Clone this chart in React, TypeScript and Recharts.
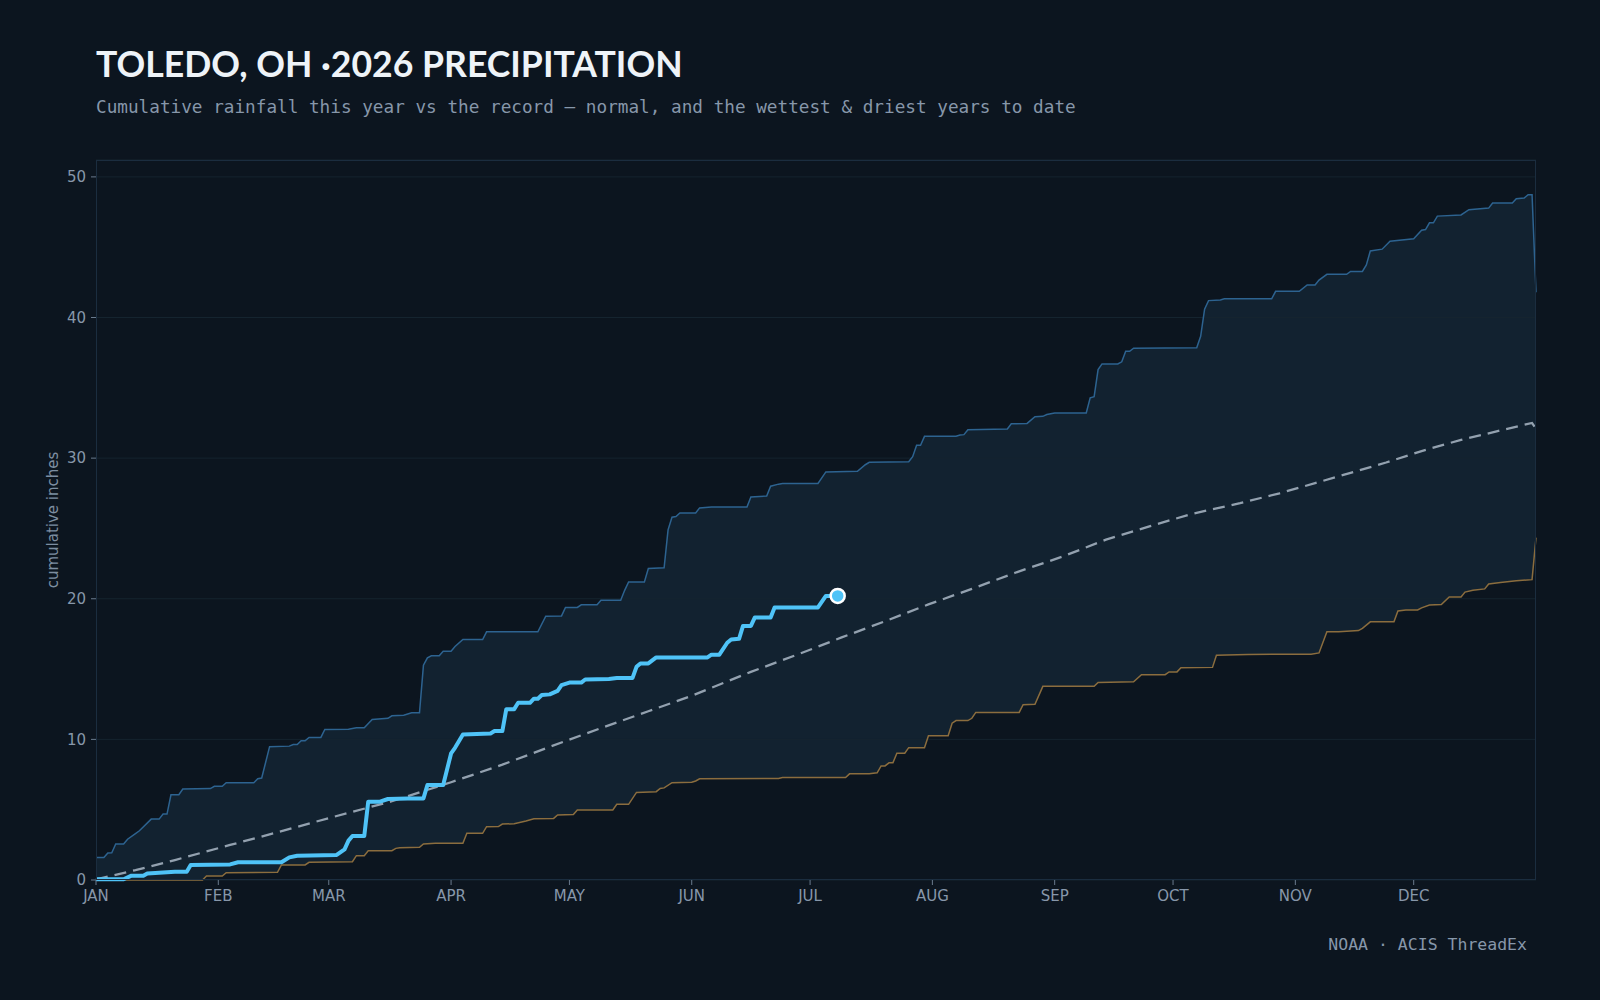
import { ComposedChart, Area, Line, XAxis, YAxis, CartesianGrid } from 'recharts'

const monthStarts = [0, 31, 59, 90, 120, 151, 181, 212, 243, 273, 304, 334]
const monthLabels = ['JAN', 'FEB', 'MAR', 'APR', 'MAY', 'JUN', 'JUL', 'AUG', 'SEP', 'OCT', 'NOV', 'DEC']
const yTicks = [0, 10, 20, 30, 40, 50]

// [day of year, cumulative inches]
const wettestToDate: [number, number][] = [
	[0, 1.6], [2, 1.6], [3, 1.92], [4, 1.94], [5, 2.56], [7, 2.56], [8, 2.9], [10, 3.3], [11, 3.5], [14, 4.33],
	[16, 4.33], [17, 4.69], [18, 4.69], [19, 6.06], [21, 6.06], [22, 6.47], [29, 6.5], [30, 6.66], [32, 6.66],
	[33, 6.92], [40, 6.92], [41, 7.2], [42, 7.25], [44, 9.48], [49, 9.52], [50, 9.64], [51, 9.64], [52, 9.9],
	[53, 9.9], [54, 10.14], [57, 10.14], [58, 10.71], [64, 10.72], [66, 10.83], [68, 10.83], [70, 11.42],
	[74, 11.5], [75, 11.68], [78, 11.72], [80, 11.89], [82, 11.9], [83, 15.28], [84, 15.8], [85, 15.94],
	[87, 15.94], [88, 16.27], [90, 16.27], [91, 16.6], [93, 17.1], [98, 17.1], [99, 17.65], [112, 17.65],
	[114, 18.76], [118, 18.78], [119, 19.38], [122, 19.38], [123, 19.57], [127, 19.57], [128, 19.9], [133, 19.9],
	[134, 20.6], [135, 21.2], [139, 21.2], [140, 22.15], [144, 22.2], [145, 24.9], [146, 25.8], [147, 25.85],
	[148, 26.1], [152, 26.1], [153, 26.46], [156, 26.53], [165, 26.53], [166, 27.24], [170, 27.3], [171, 28.0],
	[173, 28.15], [174, 28.19], [183, 28.2], [185, 29.02], [193, 29.06], [195, 29.53], [196, 29.7], [206, 29.75],
	[207, 30.1], [208, 30.92], [209, 30.92], [210, 31.55], [218, 31.55], [219, 31.65], [220, 31.67], [221, 32.02],
	[231, 32.07], [232, 32.44], [236, 32.47], [238, 32.94], [240, 32.97], [241, 33.1], [243, 33.21], [251, 33.21],
	[252, 34.29], [253, 34.37], [254, 36.3], [255, 36.7], [259, 36.7], [260, 36.85], [261, 37.6], [262, 37.6],
	[263, 37.82], [279, 37.85], [280, 38.66], [281, 40.59], [282, 41.2], [285, 41.25], [286, 41.33], [298, 41.33],
	[299, 41.86], [305, 41.86], [307, 42.31], [309, 42.31], [310, 42.66], [312, 43.07], [317, 43.07], [318, 43.28],
	[321, 43.28], [322, 43.74], [323, 44.73], [326, 44.86], [328, 45.42], [334, 45.6], [336, 46.2], [337, 46.25],
	[338, 46.73], [339, 46.73], [340, 47.21], [346, 47.29], [348, 47.67], [353, 47.78], [354, 48.14], [359, 48.14],
	[360, 48.44], [362, 48.5], [363, 48.73], [364, 48.73], [365, 41.8],
]

const driestToDate: [number, number][] = [
	[0, 0], [27, 0], [28, 0.28], [32, 0.28], [33, 0.52], [46, 0.55], [47, 1.07], [53, 1.07], [54, 1.26], [65, 1.3],
	[66, 1.73], [68, 1.73], [69, 2.08], [75, 2.08], [76, 2.25], [77, 2.3], [82, 2.33], [83, 2.56], [86, 2.62],
	[93, 2.62], [94, 3.32], [98, 3.32], [99, 3.79], [102, 3.8], [103, 3.98], [106, 4.0], [109, 4.19], [111, 4.36],
	[116, 4.38], [117, 4.62], [121, 4.65], [122, 4.98], [131, 4.98], [132, 5.38], [135, 5.38], [137, 6.23],
	[142, 6.28], [143, 6.51], [144, 6.55], [146, 6.92], [151, 6.95], [152, 7.04], [153, 7.2], [173, 7.22],
	[174, 7.29], [190, 7.29], [191, 7.55], [196, 7.55], [198, 7.62], [199, 8.11], [200, 8.11], [201, 8.33],
	[202, 8.33], [203, 9.02], [205, 9.02], [206, 9.41], [210, 9.41], [211, 10.26], [216, 10.26], [217, 11.15],
	[218, 11.34], [221, 11.34], [222, 11.5], [223, 11.92], [234, 11.92], [235, 12.47], [238, 12.5], [240, 13.77],
	[253, 13.77], [254, 14.05], [263, 14.1], [265, 14.6], [271, 14.6], [272, 14.8], [274, 14.8], [275, 15.1],
	[283, 15.12], [284, 15.98], [292, 16.04], [308, 16.06], [310, 16.15], [312, 17.66], [315, 17.66], [320, 17.74],
	[321, 17.9], [323, 18.36], [329, 18.36], [330, 19.13], [332, 19.2], [335, 19.2], [336, 19.35], [338, 19.55],
	[341, 19.59], [343, 20.12], [346, 20.12], [347, 20.47], [349, 20.6], [352, 20.7], [353, 21.05], [356, 21.15],
	[360, 21.28], [364, 21.36], [365, 24.35],
]

const normalToDate: [number, number][] = [
	[0, 0.05], [10, 0.7], [20, 1.42], [34, 2.49], [45, 3.32], [59, 4.4], [75, 5.6], [90, 6.95], [103, 8.2],
	[115, 9.47], [128, 10.8], [140, 12.0], [151, 13.1], [166, 14.8], [178, 16.05], [189, 17.25], [200, 18.4],
	[211, 19.6], [222, 20.7], [233, 21.85], [245, 23.0], [256, 24.2], [267, 25.15], [278, 26.05], [290, 26.8],
	[300, 27.5], [309, 28.22], [318, 28.95], [327, 29.69], [336, 30.5], [346, 31.3], [355, 31.9], [364, 32.5],
	[365, 32.1],
]

const thisYear: [number, number][] = [
	[0, 0.05], [7, 0.05], [9, 0.31], [12, 0.31], [13, 0.47], [16, 0.52], [20, 0.59], [23, 0.59], [24, 1.07],
	[34, 1.11], [36, 1.26], [47, 1.26], [49, 1.61], [51, 1.73], [61, 1.78], [63, 2.18], [64, 2.8], [65, 3.13],
	[68, 3.13], [69, 5.57], [72, 5.57], [74, 5.76], [79, 5.8], [83, 5.8], [84, 6.75], [88, 6.75], [90, 9.0],
	[91, 9.4], [93, 10.35], [100, 10.42], [101, 10.59], [103, 10.59], [104, 12.15], [106, 12.15], [107, 12.6],
	[110, 12.6], [111, 12.89], [112, 12.89], [113, 13.15], [115, 13.2], [117, 13.45], [118, 13.86], [120, 14.04],
	[123, 14.04], [124, 14.26], [130, 14.3], [132, 14.37], [136, 14.37], [137, 15.16], [138, 15.4], [140, 15.4],
	[142, 15.83], [155, 15.83], [156, 16.02], [158, 16.02], [160, 16.87], [161, 17.1], [163, 17.15], [164, 18.07],
	[166, 18.07], [167, 18.67], [171, 18.67], [172, 19.38], [183, 19.38], [185, 20.2], [188, 20.2],
]

const BG = '#0c151f'
const BAND = '#122230'
const GRID = '#15242f'
const MUTED = '#8797aa'

const rows = (pts: [number, number][]) => pts.map(([day, v]) => ({ day, v }))

export default function App() {
	const hi = rows(wettestToDate)
	const lo = rows(driestToDate)
	const norm = rows(normalToDate)
	const now = rows(thisYear)
	const lastIdx = now.length - 1

	return (
		<div style={{ position: 'absolute', left: 0, top: 0, width: 1600, height: 1000, background: BG }}>
			<ComposedChart width={1600} height={1000} margin={{ top: 160, right: 64, bottom: 90, left: 36 }}>
				<XAxis
					type="number"
					dataKey="day"
					domain={[0, 365]}
					ticks={monthStarts}
					interval={0}
					tickFormatter={(d: number) => monthLabels[monthStarts.indexOf(d)]}
					height={30}
					axisLine={false}
					tickSize={5}
					tickMargin={5}
					tick={{ fill: MUTED, fontSize: 15, fontFamily: 'DejaVu Sans' }}
					tickLine={{ stroke: '#6a7b8e' }}
				/>
				<YAxis
					type="number"
					domain={[0, 51.2]}
					ticks={yTicks}
					width={60}
					axisLine={false}
					tickSize={5}
					tickMargin={5}
					tick={{ fill: MUTED, fontSize: 15, fontFamily: 'DejaVu Sans' }}
					tickLine={{ stroke: '#6a7b8e' }}
				/>
				<Area data={hi} dataKey="v" type="linear" stroke="none" fill={BAND} fillOpacity={1} isAnimationActive={false} />
				<Area data={lo} dataKey="v" type="linear" stroke="none" fill={BG} fillOpacity={1} isAnimationActive={false} />
				<CartesianGrid vertical={false} stroke={GRID} zIndex={150} />
				<Line data={hi} dataKey="v" type="linear" stroke="#2d6390" strokeWidth={1.5} dot={false} isAnimationActive={false} />
				<Line data={lo} dataKey="v" type="linear" stroke="#8b6d3e" strokeWidth={1.5} dot={false} isAnimationActive={false} />
				<Line
					data={norm}
					dataKey="v"
					type="linear"
					stroke="#93a1af"
					strokeWidth={2.3}
					strokeDasharray="12 7"
					dot={false}
					isAnimationActive={false}
				/>
				<Line
					data={now}
					dataKey="v"
					type="linear"
					stroke="#4fc3f7"
					strokeWidth={4}
					strokeLinejoin="round"
					isAnimationActive={false}
					dot={(p: any) =>
						p.index === lastIdx ? (
							<circle key="end" cx={p.cx} cy={p.cy} r={7} fill="#4fc3f7" stroke="#ffffff" strokeWidth={2.5} />
						) : (
							<g key={p.index} />
						)
					}
				/>
			</ComposedChart>
			<svg width={1600} height={1000} style={{ position: 'absolute', left: 0, top: 0, pointerEvents: 'none' }}>
				<rect x={96.5} y={160.5} width={1439} height={719} fill="none" stroke="#1b2d3f" />
				<text x={96} y={77} fontFamily="Lato" fontWeight={700} fontSize={35.6} fill="#eef3f8">
					TOLEDO, OH ·2026 PRECIPITATION
				</text>
				<text x={96} y={112.5} fontFamily="DejaVu Sans Mono" fontSize={17.7} fill={MUTED}>
					Cumulative rainfall this year vs the record — normal, and the wettest &amp; driest years to date
				</text>
				<text
					transform="translate(58,520) rotate(-90)"
					textAnchor="middle"
					fontFamily="DejaVu Sans"
					fontSize={15}
					fill="#7d8ea1"
				>
					cumulative inches
				</text>
				<text x={1527} y={950} textAnchor="end" fontFamily="DejaVu Sans Mono" fontSize={16.5} fill={MUTED}>
					NOAA · ACIS ThreadEx
				</text>
			</svg>
		</div>
	)
}
